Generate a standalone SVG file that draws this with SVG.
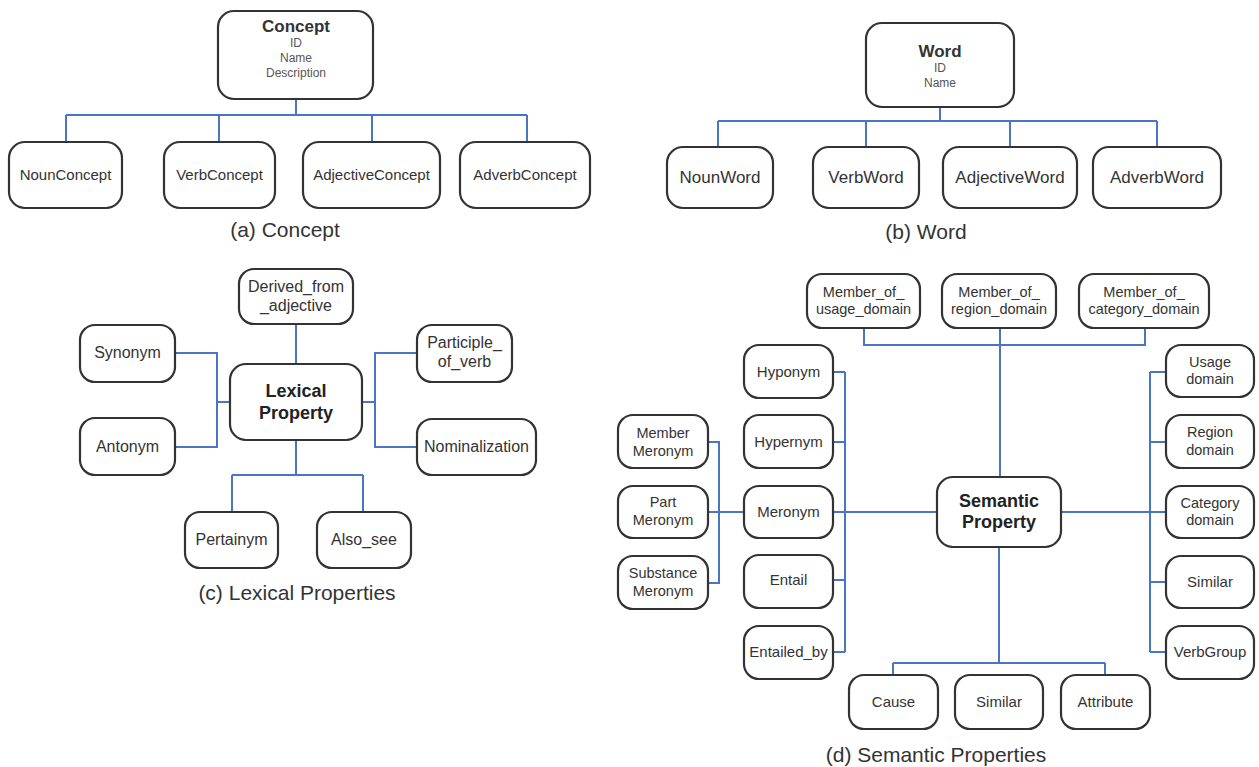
<svg xmlns="http://www.w3.org/2000/svg" width="1259" height="767" viewBox="0 0 1259 767">
<style>
.box{fill:#fff;stroke:#333;stroke-width:2.2}
.t{font-family:"Liberation Sans",Arial,sans-serif;fill:#333;text-anchor:middle}
.b{font-weight:bold;font-size:18px;fill:#222}
.s{font-size:12px;fill:#555}
.cap{font-size:21px;fill:#333}
.con path{fill:none;stroke:#4a74c4;stroke-width:2}
</style>
<rect width="1259" height="767" fill="#fff"/>

<!-- connectors -->
<g class="con">
  <!-- (a) -->
  <path d="M296,99 V115 M66,115 H527 M66,115 V142 M219,115 V142 M372,115 V142 M527,115 V142"/>
  <!-- (b) -->
  <path d="M940,107 V121 M718,121 H1157 M718,121 V147 M866,121 V147 M1010,121 V147 M1157,121 V147"/>
  <!-- (c) -->
  <path d="M296,324 V364 M175,353 H217 V447 H175 M217,402 H230 M417,353 H375 V447 H417 M362,402 H375 M296,440 V475 M232,475 H363 M232,475 V512 M363,475 V512"/>
  <!-- (d) -->
  <path d="M864,328 V345 H1145 V328 M1000,328 V477"/>
  <path d="M833,372 H845 M833,442 H845 M833,580 H845 M833,652 H845 M845,372 V652 M833,512 H937"/>
  <path d="M708,442 H719 V583 H708 M708,512 H744"/>
  <path d="M1150,372 H1166 M1150,442 H1166 M1150,582 H1166 M1150,652 H1166 M1150,372 V652 M1061,512 H1166"/>
  <path d="M999,547 V663 M893,663 H1105 M893,663 V675 M1105,663 V675"/>
</g>

<!-- (a) Concept -->
<g id="concept">
  <rect class="box" x="218" y="11" width="155" height="88" rx="16"/>
  <text class="t" x="296" y="32" font-size="17" font-weight="bold" fill="#222">Concept</text>
  <text class="t s" x="296" y="47">ID</text>
  <text class="t s" x="296" y="62">Name</text>
  <text class="t s" x="296" y="77">Description</text>
</g>
<g id="nounconcept"><rect class="box" x="9" y="142" width="113" height="66" rx="16"/><text class="t" x="65.5" y="180" font-size="15">NounConcept</text></g>
<g id="verbconcept"><rect class="box" x="164" y="142" width="111" height="66" rx="16"/><text class="t" x="219.5" y="180" font-size="15">VerbConcept</text></g>
<g id="adjectiveconcept"><rect class="box" x="303" y="142" width="137" height="66" rx="16"/><text class="t" x="371.5" y="180" font-size="15">AdjectiveConcept</text></g>
<g id="adverbconcept"><rect class="box" x="460" y="142" width="130" height="66" rx="16"/><text class="t" x="525" y="180" font-size="15">AdverbConcept</text></g>
<text class="t cap" x="285" y="237">(a) Concept</text>

<!-- (b) Word -->
<g id="word">
  <rect class="box" x="866" y="23" width="148" height="84" rx="16"/>
  <text class="t" x="940" y="57" font-size="17" font-weight="bold" fill="#222">Word</text>
  <text class="t s" x="940" y="72" font-size="11">ID</text>
  <text class="t s" x="940" y="87" font-size="11">Name</text>
</g>
<g id="nounword"><rect class="box" x="667" y="147" width="106" height="61" rx="16"/><text class="t" x="720" y="183" font-size="17">NounWord</text></g>
<g id="verbword"><rect class="box" x="813" y="147" width="106" height="61" rx="16"/><text class="t" x="866" y="183" font-size="17">VerbWord</text></g>
<g id="adjectiveword"><rect class="box" x="943" y="147" width="134" height="61" rx="16"/><text class="t" x="1010" y="183" font-size="17">AdjectiveWord</text></g>
<g id="adverbword"><rect class="box" x="1093" y="147" width="128" height="61" rx="16"/><text class="t" x="1157" y="183" font-size="17">AdverbWord</text></g>
<text class="t cap" x="926" y="239">(b) Word</text>

<!-- (c) Lexical -->
<g id="derived"><rect class="box" x="239" y="269" width="114" height="55" rx="15"/><text class="t" x="296" y="292" font-size="16">Derived_from</text><text class="t" x="296" y="311" font-size="16">_adjective</text></g>
<g id="synonym"><rect class="box" x="80" y="325" width="95" height="57" rx="15"/><text class="t" x="127.5" y="358" font-size="16">Synonym</text></g>
<g id="antonym"><rect class="box" x="80" y="418" width="95" height="57" rx="15"/><text class="t" x="127.5" y="452" font-size="16">Antonym</text></g>
<g id="lexical"><rect class="box" x="230" y="364" width="132" height="76" rx="16"/><text class="t b" x="296" y="397">Lexical</text><text class="t b" x="296" y="419">Property</text></g>
<g id="participle"><rect class="box" x="417" y="325" width="95" height="57" rx="15"/><text class="t" x="464.5" y="348" font-size="16">Participle_</text><text class="t" x="464.5" y="367" font-size="16">of_verb</text></g>
<g id="nominalization"><rect class="box" x="417" y="419" width="119" height="56" rx="15"/><text class="t" x="476.5" y="452" font-size="16">Nominalization</text></g>
<g id="pertainym"><rect class="box" x="185" y="512" width="93" height="56" rx="15"/><text class="t" x="231.5" y="545" font-size="16">Pertainym</text></g>
<g id="alsosee"><rect class="box" x="317" y="512" width="94" height="56" rx="15"/><text class="t" x="364" y="545" font-size="16">Also_see</text></g>
<text class="t cap" x="297" y="600">(c) Lexical Properties</text>

<!-- (d) Semantic -->
<g id="mou"><rect class="box" x="807" y="274" width="113" height="54" rx="15"/><text class="t" x="863.5" y="297" font-size="14.5">Member_of_</text><text class="t" x="863.5" y="314" font-size="14.5">usage_domain</text></g>
<g id="mor"><rect class="box" x="942" y="274" width="114" height="54" rx="15"/><text class="t" x="999" y="297" font-size="14.5">Member_of_</text><text class="t" x="999" y="314" font-size="14.5">region_domain</text></g>
<g id="moc"><rect class="box" x="1079" y="274" width="130" height="54" rx="15"/><text class="t" x="1144" y="297" font-size="14.5">Member_of_</text><text class="t" x="1144" y="314" font-size="14.5">category_domain</text></g>
<g id="semantic"><rect class="box" x="937" y="477" width="124" height="70" rx="16"/><text class="t b" x="999" y="507">Semantic</text><text class="t b" x="999" y="528">Property</text></g>

<g id="hyponym"><rect class="box" x="744" y="345" width="89" height="53" rx="15"/><text class="t" x="788.5" y="377" font-size="15">Hyponym</text></g>
<g id="hypernym"><rect class="box" x="744" y="415" width="89" height="53" rx="15"/><text class="t" x="788.5" y="447" font-size="15">Hypernym</text></g>
<g id="meronym"><rect class="box" x="744" y="486" width="89" height="52" rx="15"/><text class="t" x="788.5" y="517" font-size="15">Meronym</text></g>
<g id="entail"><rect class="box" x="744" y="555" width="89" height="53" rx="15"/><text class="t" x="788.5" y="585" font-size="15">Entail</text></g>
<g id="entailedby"><rect class="box" x="744" y="626" width="89" height="53" rx="15"/><text class="t" x="788.5" y="657" font-size="15">Entailed_by</text></g>

<g id="membermeronym"><rect class="box" x="618" y="415" width="90" height="53" rx="15"/><text class="t" x="663" y="438" font-size="14.5">Member</text><text class="t" x="663" y="456" font-size="14.5">Meronym</text></g>
<g id="partmeronym"><rect class="box" x="618" y="486" width="90" height="52" rx="15"/><text class="t" x="663" y="507" font-size="14.5">Part</text><text class="t" x="663" y="525" font-size="14.5">Meronym</text></g>
<g id="substancemeronym"><rect class="box" x="618" y="556" width="90" height="53" rx="15"/><text class="t" x="663" y="578" font-size="14.5">Substance</text><text class="t" x="663" y="596" font-size="14.5">Meronym</text></g>

<g id="usagedomain"><rect class="box" x="1166" y="345" width="88" height="52" rx="15"/><text class="t" x="1210" y="367" font-size="14.5">Usage</text><text class="t" x="1210" y="384" font-size="14.5">domain</text></g>
<g id="regiondomain"><rect class="box" x="1166" y="415" width="88" height="53" rx="15"/><text class="t" x="1210" y="437" font-size="14.5">Region</text><text class="t" x="1210" y="455" font-size="14.5">domain</text></g>
<g id="categorydomain"><rect class="box" x="1166" y="486" width="88" height="52" rx="15"/><text class="t" x="1210" y="508" font-size="14.5">Category</text><text class="t" x="1210" y="525" font-size="14.5">domain</text></g>
<g id="similar-r"><rect class="box" x="1166" y="556" width="88" height="52" rx="15"/><text class="t" x="1210" y="587" font-size="15">Similar</text></g>
<g id="verbgroup"><rect class="box" x="1166" y="626" width="88" height="53" rx="15"/><text class="t" x="1210" y="657" font-size="15">VerbGroup</text></g>

<g id="cause"><rect class="box" x="849" y="675" width="89" height="54" rx="15"/><text class="t" x="893.5" y="707" font-size="15">Cause</text></g>
<g id="similar-b"><rect class="box" x="955" y="675" width="88" height="54" rx="15"/><text class="t" x="999" y="707" font-size="15">Similar</text></g>
<g id="attribute"><rect class="box" x="1061" y="675" width="89" height="54" rx="15"/><text class="t" x="1105.5" y="707" font-size="15">Attribute</text></g>
<text class="t cap" x="936" y="762">(d) Semantic Properties</text>
</svg>
